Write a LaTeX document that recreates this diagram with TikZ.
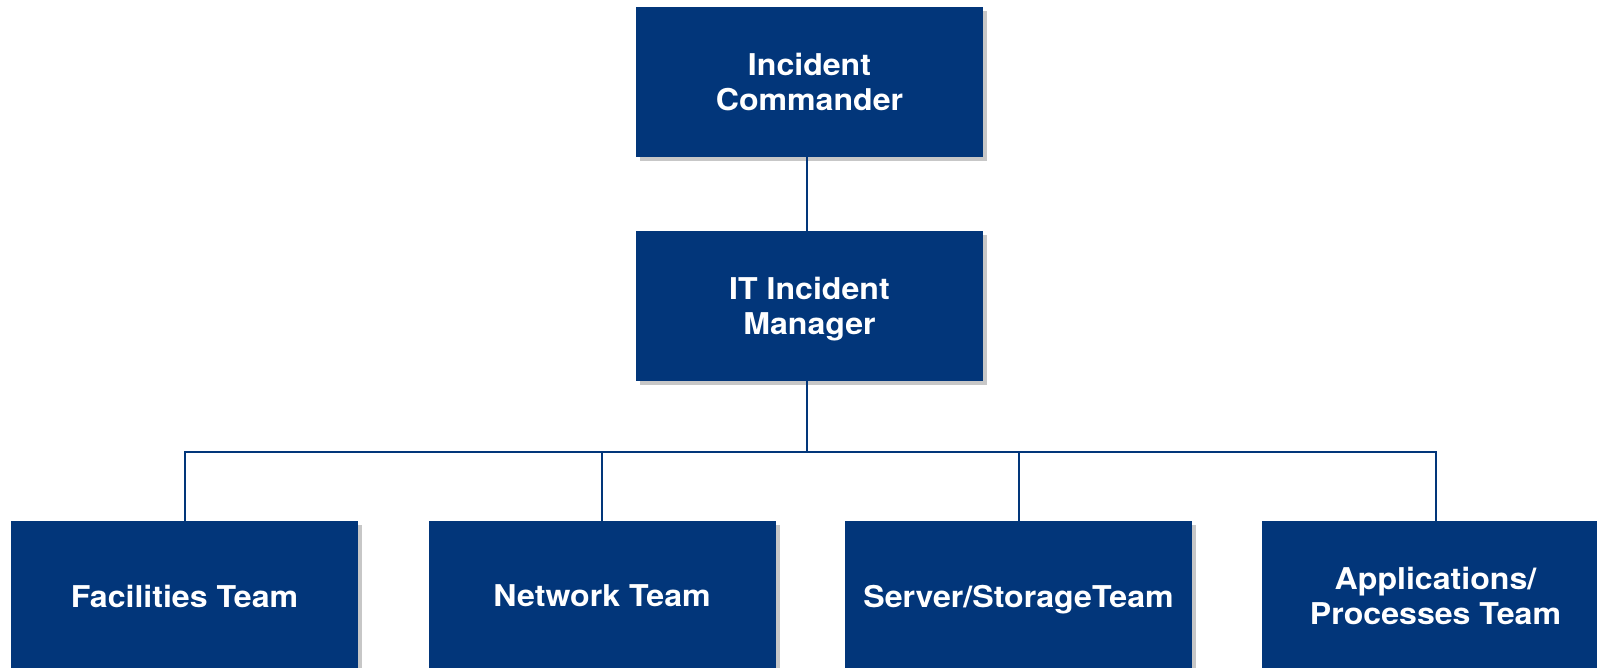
\documentclass[tikz,border=0pt]{standalone}
\usepackage{fontspec}
\setmainfont{TeX Gyre Heros}
\newfontfamily\boxfont[FakeStretch=1.07]{TeX Gyre Heros}
\usetikzlibrary{shadows}
\definecolor{navy}{RGB}{2,54,122}
\begin{document}
\begin{tikzpicture}[x=1pt,y=-1pt,
  box/.style={fill=navy, draw=none, minimum width=347pt, minimum height=150pt,
    text=white, font=\boxfont\fontsize{30}{35}\selectfont\bfseries, align=center, inner sep=0pt,
    text depth=0pt,
    drop shadow={shadow xshift=4pt, shadow yshift=-4pt, fill=black!22, opacity=1}},
  link/.style={draw=navy, line width=2pt}]
\useasboundingbox[fill=white] (0,0) rectangle (1597,668);
\node[box] (ic) at (809.5,82) {Incident\\Commander};
\node[box] (im) at (809.5,306) {IT Incident\\Manager};
\node[box] (ft) at (184.5,596) {Facilities Team};
\node[box] (nt) at (602,596) {Network Team};
\node[box] (st) at (1018.5,596) {Server/StorageTeam};
\node[box] (at) at (1435.5,596) {Applications/\\Processes Team};
\coordinate (bus) at (807,452);
\draw[link] (ic.south -| bus) -- (im.north -| bus);
\draw[link] (im.south -| bus) -- (bus);
\draw[link] (ft.north) -- (ft.north |- bus) -- (at.north |- bus) -- (at.north);
\draw[link] (nt.north) -- (nt.north |- bus);
\draw[link] (st.north) -- (st.north |- bus);
\end{tikzpicture}
\end{document}
